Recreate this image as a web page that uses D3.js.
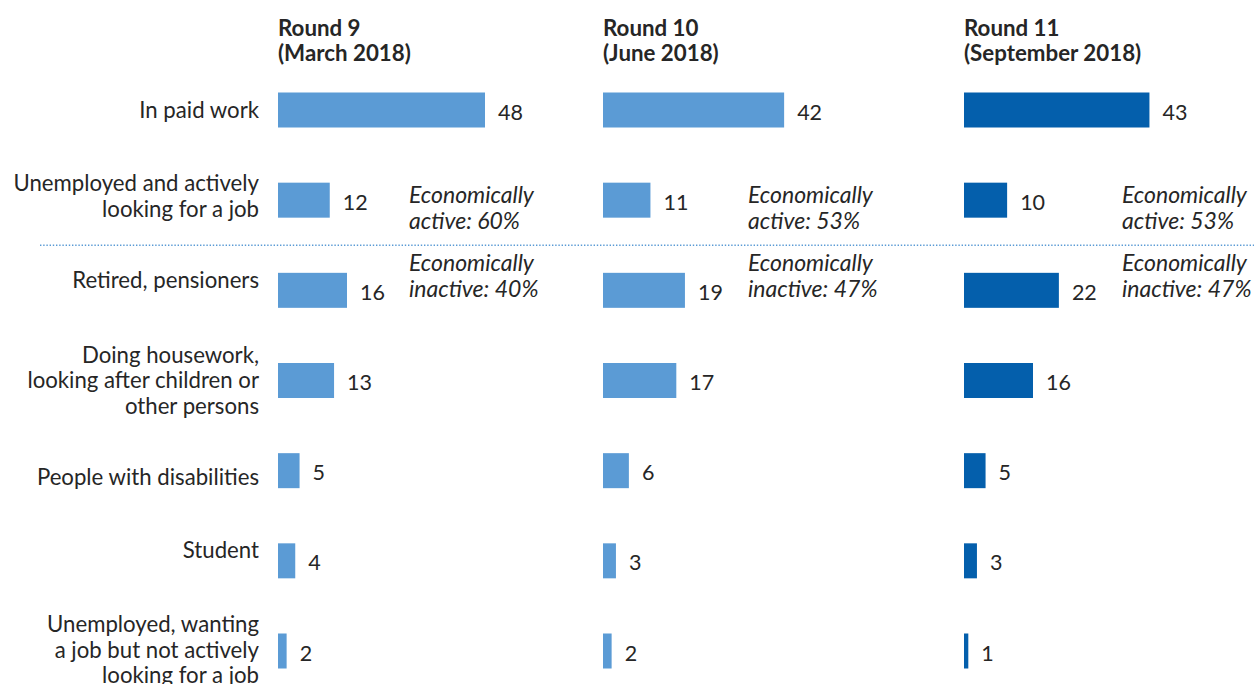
<!DOCTYPE html>
<html>
<head>
<meta charset="utf-8">
<script src="https://cdn.jsdelivr.net/npm/d3@7"></script>
<style>
  html, body { margin: 0; padding: 0; background: #fff; }
  svg { display: block; font-family: Lato, "Noto Sans", sans-serif; }
</style>
</head>
<body>
<svg id="chart" width="1254" height="684"></svg>
<script>
// Activity status categories (top to bottom)
const categories = [
  "In paid work",
  "Unemployed and actively looking for a job",
  "Retired, pensioners",
  "Doing housework, looking after children or other persons",
  "People with disabilities",
  "Student",
  "Unemployed, wanting a job but not actively looking for a job"
];
// Wrapped lines for each category label
const categoryLines = [
  ["In paid work"],
  ["Unemployed and actively", "looking for a job"],
  ["Retired, pensioners"],
  ["Doing housework,", "looking after children or", "other persons"],
  ["People with disabilities"],
  ["Student"],
  ["Unemployed, wanting", "a job but not actively", "looking for a job"]
];

// Survey rounds
const rounds = ["Round 9", "Round 10", "Round 11"];
const roundDates = ["(March 2018)", "(June 2018)", "(September 2018)"];

// Shares (%) per round, in category order
const round9 = [48, 12, 16, 13, 5, 4, 2];
const round10 = [42, 11, 19, 17, 6, 3, 2];
const round11 = [43, 10, 22, 16, 5, 3, 1];

// Economically active / inactive totals per round
const activeShare = [60, 53, 53];
const inactiveShare = [40, 47, 47];

// ---- layout ----
const panelX = [278, 603, 964];
const noteX = [409, 748, 1122];
const barColors = ["#5b9bd5", "#5b9bd5", "#045fac"];
const textColor = "#262626";
const labelRight = 259;
const lineH = 25.5;
const barH = 35;
// small vertical nudges of the category labels relative to their bars
const labelNudge = [0, -4, -10, 0, 7, -11, -1];

const series = [round9, round10, round11];

const svg = d3.select("#chart");

const y = d3.scalePoint().domain(categories).range([110, 651]);
const x = d3.scaleLinear().domain([0, 48]).range([0, 207]);

// category labels
categories.forEach((c, i) => {
  const lines = categoryLines[i];
  const cy = y(c) + labelNudge[i];
  const t = svg.append("text")
    .attr("x", labelRight)
    .attr("text-anchor", "end")
    .attr("fill", textColor)
    .style("font-size", "22.2px");
  lines.forEach((ln, k) => {
    t.append("tspan")
      .attr("x", labelRight)
      .attr("y", cy + (k - (lines.length - 1) / 2) * lineH)
      .attr("dy", "0.35em")
      .text(ln);
  });
});

// separator between economically active and inactive groups
const sepY = (y(categories[1]) + y(categories[2])) / 2;
svg.append("line")
  .attr("x1", 40).attr("x2", 1254)
  .attr("y1", sepY).attr("y2", sepY)
  .attr("stroke", "#5b9bd5")
  .attr("stroke-width", 1.4)
  .attr("stroke-dasharray", "1.4,1.8");

// panels
rounds.forEach((r, p) => {
  const g = svg.append("g").attr("transform", `translate(${panelX[p]},0)`);

  const title = g.append("text")
    .attr("fill", textColor)
    .style("font-size", "22.3px")
    .style("font-weight", "700");
  title.append("tspan").attr("x", 0).attr("y", 28).attr("dy", "0.35em").text(r);
  title.append("tspan").attr("x", 0).attr("y", 53.5).attr("dy", "0.35em").text(roundDates[p]);

  g.selectAll("rect.bar")
    .data(series[p])
    .join("rect")
    .attr("class", "bar")
    .attr("x", 0)
    .attr("y", (d, i) => y(categories[i]) - barH / 2)
    .attr("width", d => x(d))
    .attr("height", barH)
    .attr("fill", barColors[p]);

  g.selectAll("text.val")
    .data(series[p])
    .join("text")
    .attr("class", "val")
    .attr("x", d => x(d) + 13)
    .attr("y", (d, i) => y(categories[i]) + 2)
    .attr("dy", "0.35em")
    .attr("fill", textColor)
    .style("font-size", "21.5px")
    .text(d => d);

  // group totals
  const nx = noteX[p] - panelX[p];
  const notes = [
    { y: 195, lines: ["Economically", `active: ${activeShare[p]}%`] },
    { y: 263, lines: ["Economically", `inactive: ${inactiveShare[p]}%`] }
  ];
  notes.forEach(n => {
    const t = g.append("text")
      .attr("fill", textColor)
      .style("font-size", "23px")
      .style("font-style", "italic");
    n.lines.forEach((ln, k) => {
      t.append("tspan").attr("x", nx).attr("y", n.y + k * lineH)
        .attr("dy", "0.35em").text(ln);
    });
  });
});
</script>
</body>
</html>
